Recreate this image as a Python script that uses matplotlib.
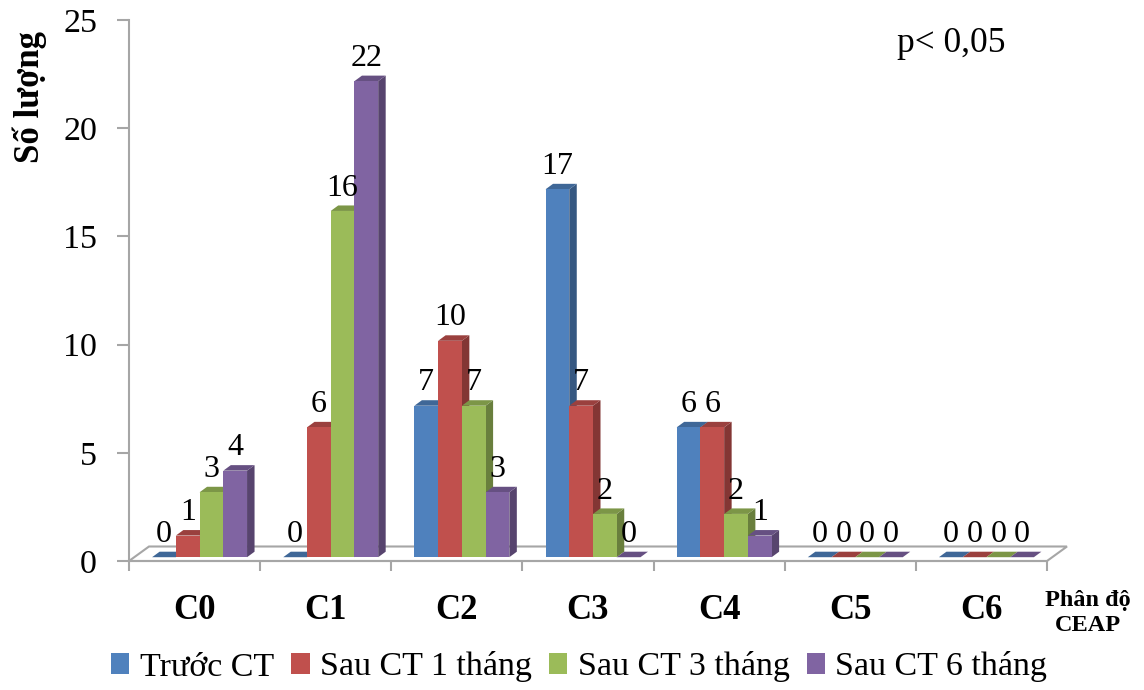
import numpy as np
import matplotlib.pyplot as plt
from matplotlib.patches import Polygon, Patch
from matplotlib.colors import to_rgb

# ---------------- data ----------------
categories = ["C0", "C1", "C2", "C3", "C4", "C5", "C6"]
series_names = ["Trước CT", "Sau CT 1 tháng", "Sau CT 3 tháng", "Sau CT 6 tháng"]
truoc_ct = [0, 0, 7, 17, 6, 0, 0]
sau_1_thang = [1, 6, 10, 7, 6, 0, 0]
sau_3_thang = [3, 16, 7, 2, 2, 0, 0]
sau_6_thang = [4, 22, 3, 0, 1, 0, 0]
y_ticks = [0, 5, 10, 15, 20, 25]

# ---------------- style ----------------
COLORS = ["#4F81BD", "#C0504D", "#9BBB59", "#8064A2"]
GRID_GRAY = "#a6a6a6"
plt.rcParams["font.family"] = ["Liberation Serif", "DejaVu Serif"]

W, H, DPI = 1144, 690, 100
X0, X1 = 129, 1047          # pixel extent of the category axis
Y0, Y1 = 561, 20            # pixel extent of 0..25
PX_X = (X1 - X0) / len(categories)
PX_Y = (Y0 - Y1) / 25.0

# oblique depth of the floor and of the bars (in pixels -> data units)
FLOOR_DX, FLOOR_DY = 20 / PX_X, 14.5 / PX_Y
SHIFT_X, SHIFT_Y = 5 / PX_X, 3.8 / PX_Y
BAR_DX, BAR_DY = 7.5 / PX_X, 5.5 / PX_Y
BAR_W = 0.181
GROUP_START = 0.138


def shade(color, f):
    r, g, b = to_rgb(color)
    return (r * f, g * f, b * f)


def draw_bar3d(ax, x, h, color, z):
    """Front face via ax.bar, then side and top faces as polygons."""
    b = SHIFT_Y
    top = b + h
    side = [(x + BAR_W, b), (x + BAR_W + BAR_DX, b + BAR_DY),
            (x + BAR_W + BAR_DX, top + BAR_DY), (x + BAR_W, top)]
    lid = [(x, top), (x + BAR_W, top),
           (x + BAR_W + BAR_DX, top + BAR_DY), (x + BAR_DX, top + BAR_DY)]
    if h > 0:
        ax.add_patch(Polygon(side, closed=True, facecolor=shade(color, 0.68),
                             edgecolor="none", zorder=z, clip_on=False))
        ax.bar(x, h, width=BAR_W, bottom=b, align="edge", color=color,
               edgecolor="none", zorder=z + 1)
    ax.add_patch(Polygon(lid, closed=True, facecolor=shade(color, 0.8),
                         edgecolor="none", zorder=z + 0.5, clip_on=False))
    ax.annotate(f"{h}", (x + BAR_W / 2, top), xytext=(0, 6),
                textcoords="offset points", ha="center", va="bottom",
                fontsize=23, zorder=20)


def main():
    fig = plt.figure(figsize=(W / DPI, H / DPI), dpi=DPI)
    ax = fig.add_axes([X0 / W, 1 - Y0 / H, (X1 - X0) / W, (Y0 - Y1) / H])
    ax.set_xlim(0, len(categories))
    ax.set_ylim(0, 25)

    # floor
    floor = [(0, 0), (len(categories), 0),
             (len(categories) + FLOOR_DX, FLOOR_DY), (FLOOR_DX, FLOOR_DY)]
    ax.add_patch(Polygon(floor, closed=True, facecolor="white",
                         edgecolor=GRID_GRAY, linewidth=1.5, zorder=1,
                         clip_on=False))

    series = [truoc_ct, sau_1_thang, sau_3_thang, sau_6_thang]
    for ci in range(len(categories)):
        for si, vals in enumerate(series):
            x = ci + GROUP_START + SHIFT_X + si * BAR_W
            draw_bar3d(ax, x, vals[ci], COLORS[si], 2 + 2 * si)

    # axes
    for s in ["top", "right"]:
        ax.spines[s].set_visible(False)
    for s in ["left", "bottom"]:
        ax.spines[s].set_color(GRID_GRAY)
        ax.spines[s].set_linewidth(1.5)
    ax.set_yticks(y_ticks)
    ax.tick_params(axis="y", length=9, width=1.5, color=GRID_GRAY,
                   labelsize=24.5, pad=14)
    ax.set_xticks(np.arange(len(categories) + 1))
    ax.set_xticklabels([])
    ax.tick_params(axis="x", which="major", length=7, width=1.5,
                   color=GRID_GRAY, direction="out")
    ax.set_xticks(np.arange(len(categories)) + 0.5, minor=True)
    ax.set_xticklabels(categories, minor=True, fontsize=25,
                       fontweight="bold")
    ax.tick_params(axis="x", which="minor", length=0, pad=24)

    fig.text(30 / W, 1 - 97 / H, "Số lượng", rotation=90, ha="center",
             va="center", fontsize=25, fontweight="bold")
    fig.text(951 / W, 1 - 44 / H, "p< 0,05", ha="center", va="center",
             fontsize=25.5)
    fig.text(1088 / W, 1 - 613 / H, "Phân độ\nCEAP", ha="center",
             va="center", fontsize=17.5, fontweight="bold", linespacing=1.2)

    handles = [Patch(facecolor=c, edgecolor="none") for c in COLORS]
    fig.legend(handles, series_names, loc="center",
               bbox_to_anchor=(579 / W, 1 - 667 / H), ncol=4, frameon=False,
               fontsize=24.5, handlelength=0.55, handleheight=0.55,
               handletextpad=0.3, columnspacing=0.5, borderpad=0)

    fig.savefig("out.png", dpi=DPI)
    plt.close(fig)


if __name__ == "__main__":
    main()
